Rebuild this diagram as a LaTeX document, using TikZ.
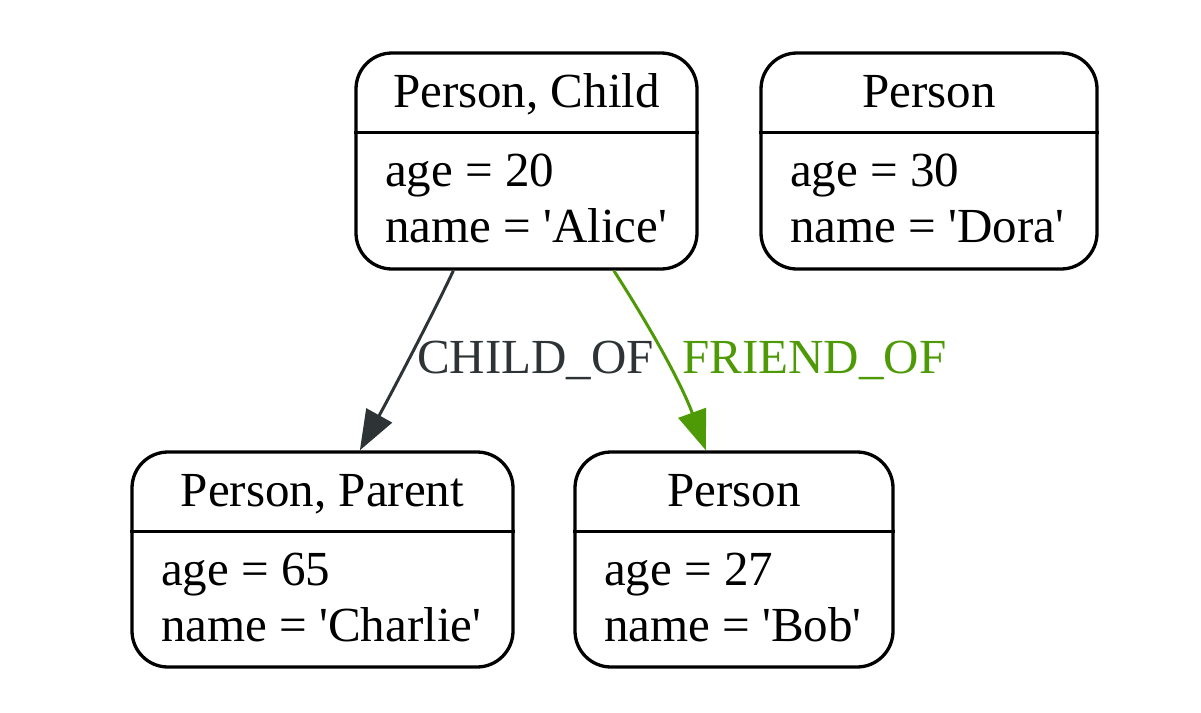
\documentclass[tikz,border=0pt]{standalone}
\usepackage{fontspec}
\setmainfont{Liberation Serif}[Ligatures=TeXOff]
\usetikzlibrary{arrows.meta,calc}
\definecolor{edgegray}{HTML}{2E3436}
\definecolor{edgegreen}{HTML}{4E9A06}
\begin{document}
\begin{tikzpicture}[x=1pt,y=-1pt,
  recbox/.style={draw=black, line width=3.3pt, rounded corners=36pt, inner sep=0pt, fill=white},
  divline/.style={draw=black, line width=3.3pt},
  txt/.style={inner sep=0pt, font=\fontsize{49pt}{58pt}\selectfont, text=black},
  titletxt/.style={txt, anchor=base},
  attrtxt/.style={txt, anchor=base west},
  edgelbl/.style={inner sep=0pt, font=\fontsize{49pt}{58pt}\selectfont, anchor=base west},
  childof/.style={draw=edgegray, line width=3pt, -{Triangle[length=40pt,width=29pt]}},
  friendof/.style={draw=edgegreen, line width=3pt, -{Triangle[length=40pt,width=29pt]}}
]
\useasboundingbox (0,0) rectangle (1201,712);

% ---- nodes ----
\node[recbox, minimum width=341pt, minimum height=216pt] (alice) at (526.5,161) {};
\node[recbox, minimum width=336pt, minimum height=216pt] (dora) at (929,161) {};
\node[recbox, minimum width=381pt, minimum height=215pt] (charlie) at (322.5,559.5) {};
\node[recbox, minimum width=318pt, minimum height=215pt] (bob) at (734,559.5) {};

% dividers
\foreach \n in {alice,dora,charlie,bob}{
  \draw[divline] ($(\n.north west)+(0,81)$) -- ($(\n.north east)+(0,81)$);
}

% texts
\node[titletxt] (aliceT) at ($(alice.north)+(0,56)$) {Person, Child};
\node[attrtxt] (aliceA) at ($(alice.north west)+(30.5,135)$) {age = 20};
\node[attrtxt] (aliceN) at ($(alice.north west)+(30.5,191)$) {name = 'Alice'};

\node[titletxt] (doraT) at ($(dora.north)+(0,56)$) {Person};
\node[attrtxt] (doraA) at ($(dora.north west)+(30.5,135)$) {age = 30};
\node[attrtxt] (doraN) at ($(dora.north west)+(30.5,191)$) {name = 'Dora'};

\node[titletxt] (charlieT) at ($(charlie.north)+(0,56)$) {Person, Parent};
\node[attrtxt] (charlieA) at ($(charlie.north west)+(30.5,135)$) {age = 65};
\node[attrtxt] (charlieN) at ($(charlie.north west)+(30.5,191)$) {name = 'Charlie'};

\node[titletxt] (bobT) at ($(bob.north)+(0,56)$) {Person};
\node[attrtxt] (bobA) at ($(bob.north west)+(30.5,135)$) {age = 27};
\node[attrtxt] (bobN) at ($(bob.north west)+(30.5,191)$) {name = 'Bob'};

% ---- edges ----
\coordinate (c1s) at ($(alice.south west)+(99,0)$);
\coordinate (c1e) at ($(charlie.north west)+(229.5,0)$);
\coordinate (f1s) at ($(alice.south west)+(259.5,0)$);
\coordinate (f1e) at ($(bob.north west)+(132.5,0)$);

\draw[childof] (c1s) .. controls (435,310) and (390,396) .. (c1e);
\draw[friendof] (f1s) .. controls (652,330) and (682,385) .. (f1e);

\node[edgelbl, text=edgegray] (lblchild) at (417,373) {CHILD\_OF};
\node[edgelbl, text=edgegreen] (lblfriend) at (682,373) {FRIEND\_OF};
\end{tikzpicture}
\end{document}
